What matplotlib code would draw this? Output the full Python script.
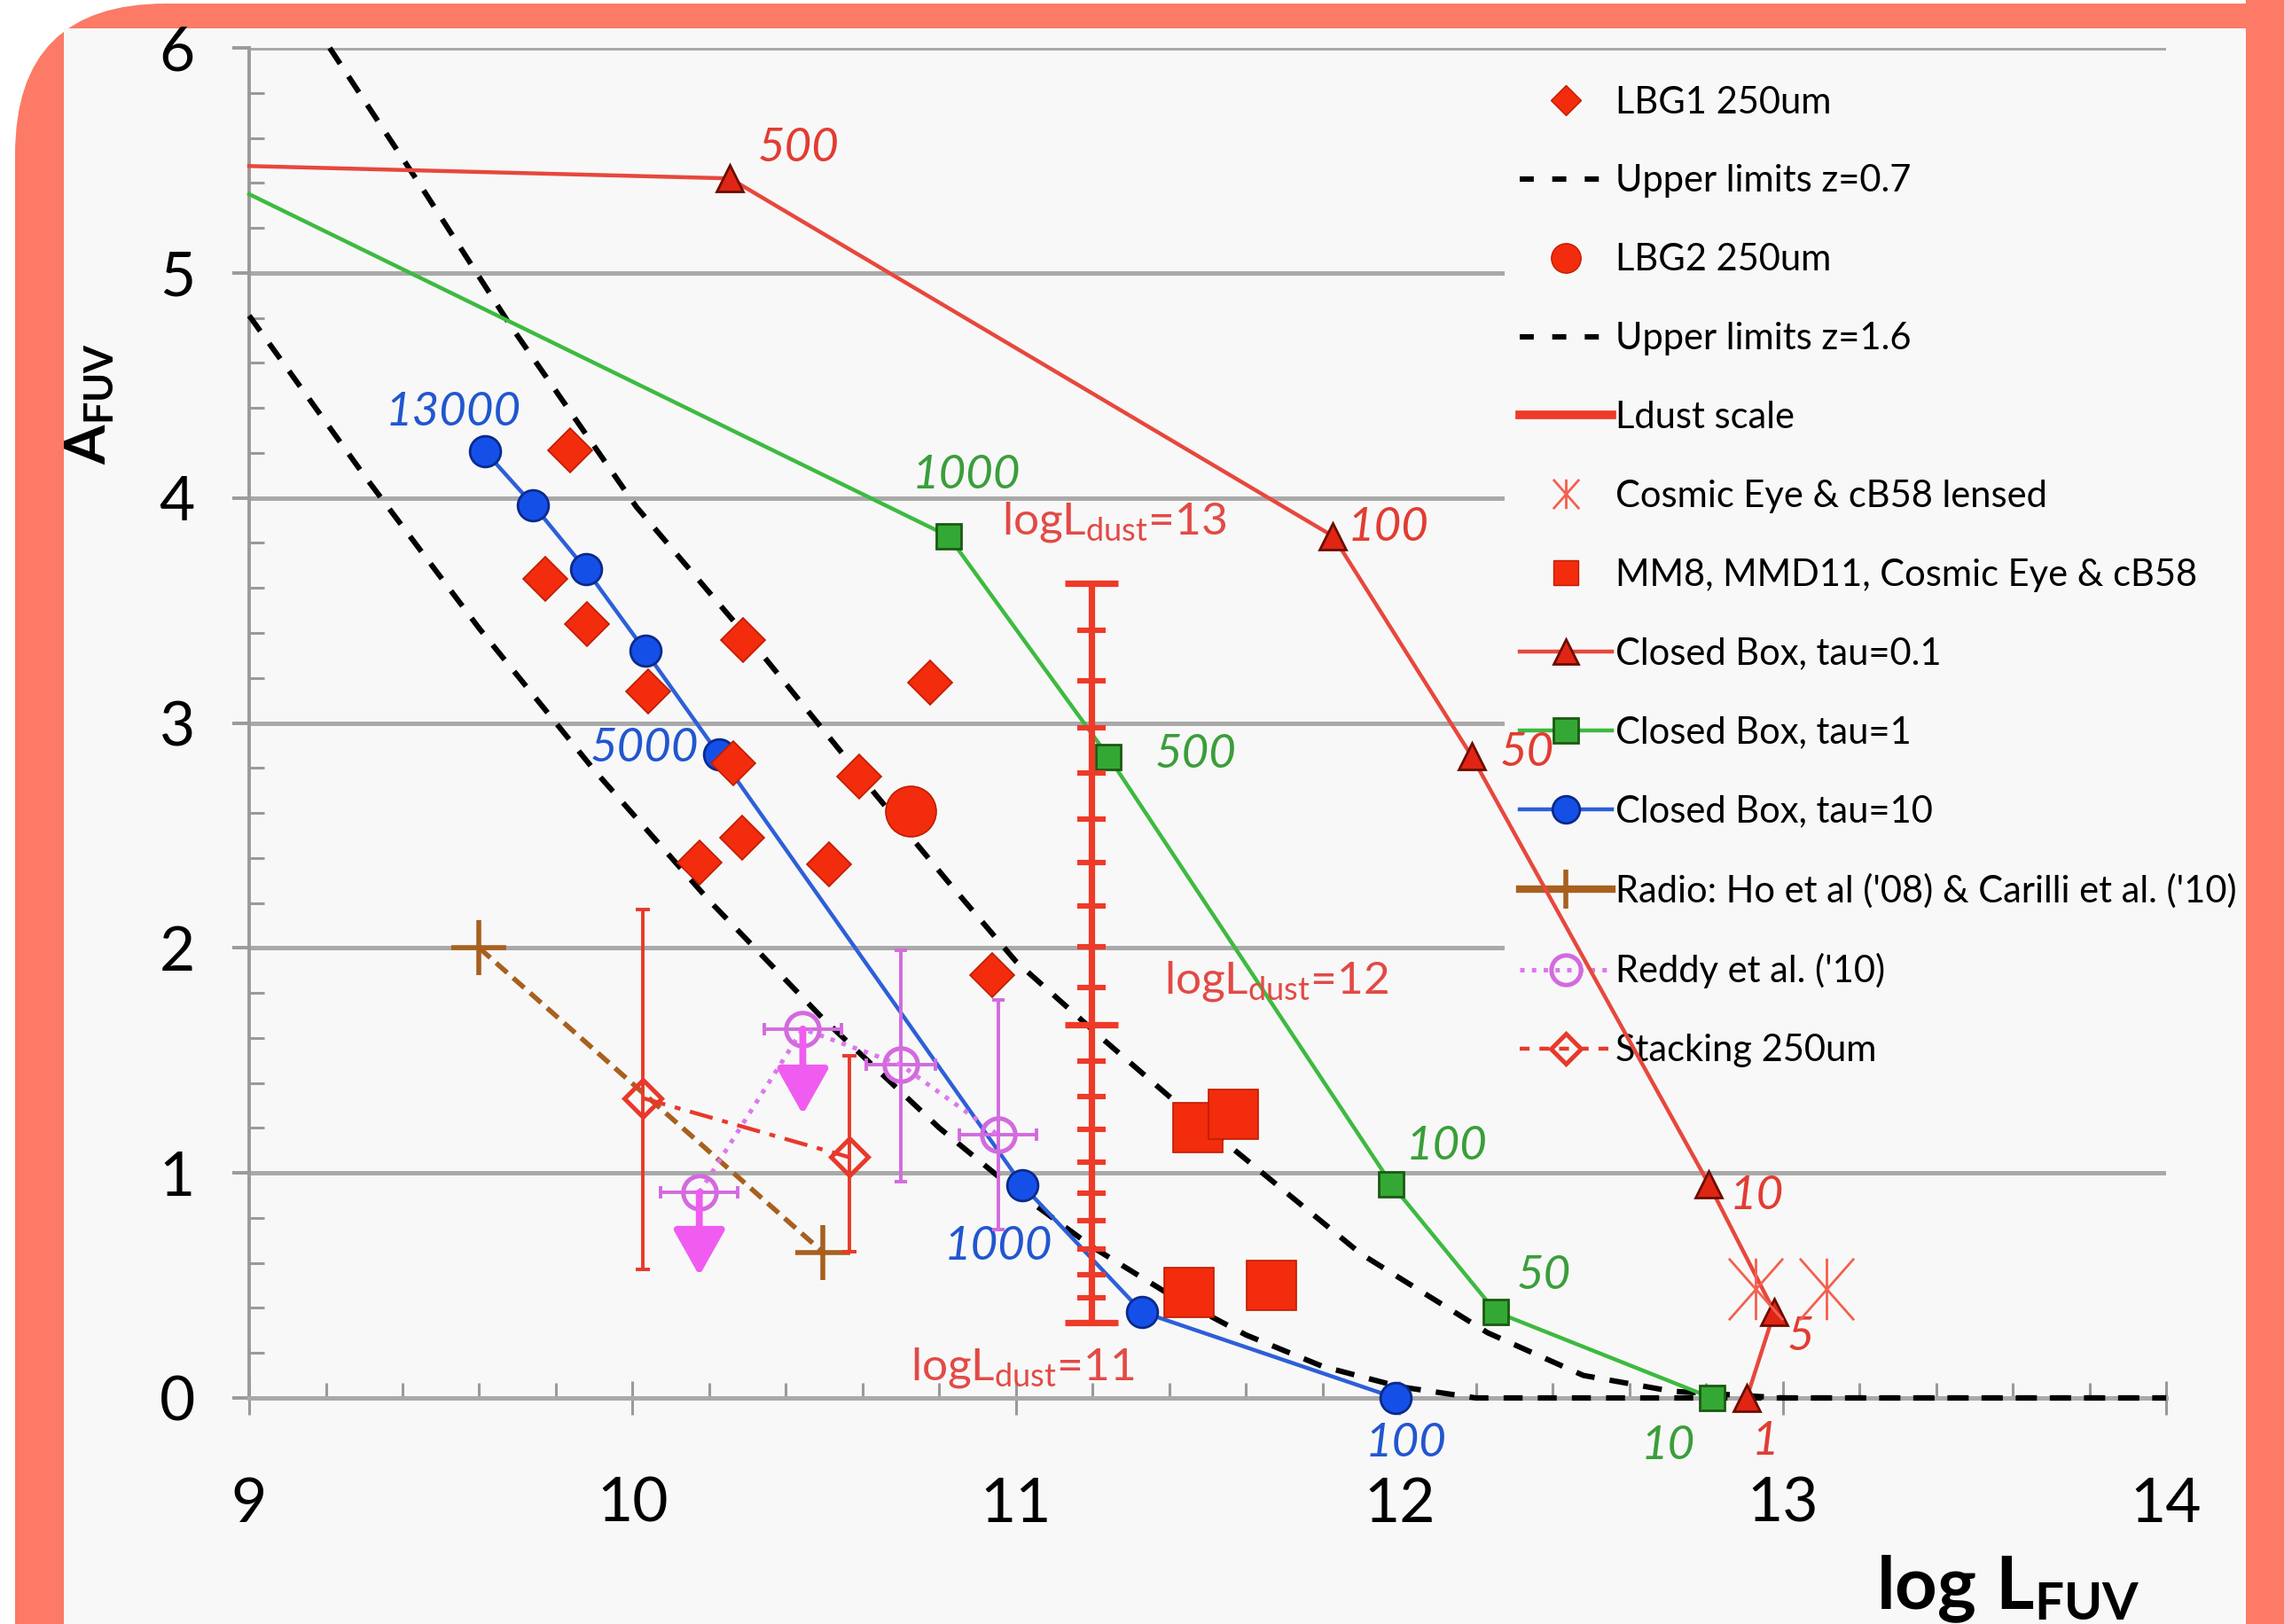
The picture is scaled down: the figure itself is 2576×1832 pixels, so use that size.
import matplotlib
matplotlib.use("Agg")
import matplotlib.pyplot as plt
from matplotlib.lines import Line2D
from matplotlib.patches import FancyBboxPatch, Rectangle
from matplotlib.path import Path
from matplotlib.ticker import MultipleLocator

plt.rcParams['font.family'] = ['Lato', 'DejaVu Sans']
plt.rcParams['mathtext.fontset'] = 'custom'
plt.rcParams['mathtext.rm'] = 'Lato'
plt.rcParams['mathtext.it'] = 'Lato:italic'
plt.rcParams['mathtext.bf'] = 'Lato:bold'

# ---- data ----
lbg1_x = [9.836, 9.773, 9.880, 10.288, 10.040, 10.776, 10.263, 10.590, 10.286, 10.175, 10.512, 10.938]
lbg1_y = [4.21, 3.64, 3.44, 3.37, 3.14, 3.18, 2.82, 2.76, 2.49, 2.38, 2.37, 1.88]

lbg2_x = [10.725]
lbg2_y = [2.61]

mm_x = [11.474, 11.568, 11.451, 11.667]
mm_y = [1.20, 1.26, 0.47, 0.50]

lensed_x = [12.93, 13.115]
lensed_y = [0.485, 0.485]

ul07_x = [9.21, 9.45, 9.68, 10.01, 10.34, 10.63, 10.82, 11.0, 11.23, 11.42, 11.6, 11.9, 12.23,
          12.48, 12.71, 13.0, 14.0]
ul07_y = [6.0, 5.38, 4.77, 3.96, 3.30, 2.69, 2.30, 1.94, 1.59, 1.31, 1.06, 0.64, 0.29,
          0.10, 0.03, 0.0, 0.0]

ul16_x = [9.0, 9.3, 9.6, 9.9, 10.2, 10.5, 10.8, 11.0, 11.2, 11.4, 11.6, 11.8, 12.0, 12.2, 14.0]
ul16_y = [4.81, 4.10, 3.42, 2.79, 2.21, 1.68, 1.20, 0.92, 0.67, 0.46, 0.28, 0.14, 0.05, 0.0, 0.0]

tau01_x = [9.0, 10.254, 11.827, 12.188, 12.807, 12.978, 12.906]
tau01_y = [5.475, 5.42, 3.83, 2.854, 0.951, 0.382, 0.0]
tau01_lab = ['', '500', '100', '50', '10', '5', '1']

tau1_x = [9.0, 10.824, 11.242, 11.979, 12.252, 12.815]
tau1_y = [5.35, 3.83, 2.848, 0.951, 0.382, 0.0]
tau1_lab = ['', '1000', '500', '100', '50', '10']

tau10_x = [9.615, 9.741, 9.878, 10.033, 10.225, 11.017, 11.329, 11.99]
tau10_y = [4.207, 3.968, 3.683, 3.32, 2.86, 0.945, 0.382, 0.0]
tau10_lab = ['13000', '', '', '', '5000', '1000', '', '100']

radio_x = [9.60, 10.497]
radio_y = [2.0, 0.647]

reddy_x = [10.174, 10.444, 10.70, 10.953]
reddy_y = [0.913, 1.64, 1.48, 1.17]
reddy_xerr = [0.1, 0.1, 0.09, 0.1]
reddy_err_lo = [0.0, 0.0, 0.52, 0.42]
reddy_err_hi = [0.0, 0.0, 0.51, 0.60]
reddy_uplim = [0.37, 0.38, 0.0, 0.0]

stack_x = [10.026, 10.565]
stack_y = [1.333, 1.07]
stack_err_lo = [0.763, 0.42]
stack_err_hi = [0.837, 0.45]

ldust_x = 11.197
ldust_logl = [11.0 + 0.1 * i for i in range(21)]
ldust_a = [0.333, 0.447, 0.549, 0.662, 0.786, 0.910, 1.046, 1.193, 1.340, 1.499, 1.657,
           1.826, 2.007, 2.188, 2.381, 2.572, 2.776, 2.98, 3.188, 3.41, 3.62]
ldust_major = [11, 12, 13]

# ---- colours ----
coral = '#fc7a66'
panel = '#f8f8f8'
red = '#f22c0c'
red_dark = '#c01c00'
red_line = '#e8473c'
green = '#3dba40'
blue = '#2d5fd8'
brown = '#a8601e'
violet = '#d36ade'
pink = '#f05cf0'

# asterisk: vertical bar plus a steep X
star = Path([(0, -1), (0, 1), (-0.88, -1), (0.88, 1), (-0.88, 1), (0.88, -1)],
            [Path.MOVETO, Path.LINETO] * 3)

fig = plt.figure(figsize=(12.88, 9.16), dpi=200)
fig.patch.set_facecolor('white')
frame = FancyBboxPatch((0.085, -1.0), 14.0, 10.14, boxstyle='round,pad=0,rounding_size=0.85',
                       transform=fig.dpi_scale_trans, fc=coral, ec='none', zorder=-5)
inner = Rectangle((0.36, -0.5), 12.665 - 0.36, 9.5, transform=fig.dpi_scale_trans,
                  fc=panel, ec='none', zorder=-4)
right_band = Rectangle((12.665, -0.5), 1.0, 10.0, transform=fig.dpi_scale_trans,
                       fc=coral, ec='none', zorder=10)
fig.patches.extend([frame, inner, right_band])

ax = fig.add_axes([0.1091, 0.1392, 0.8393, 0.8313])
ax.patch.set_alpha(0)
ax.set_xlim(9, 14)
ax.set_ylim(0, 6)

# grid, spines, ticks
ax.set_axisbelow(True)
ax.yaxis.grid(True, color='#a9a9a9', lw=1.8)
for s in ['top', 'right']:
    ax.spines[s].set_visible(False)
ax.spines['left'].set_color('#9a9a9a')
ax.spines['left'].set_linewidth(1.4)
ax.spines['bottom'].set_color('#a9a9a9')
ax.spines['bottom'].set_linewidth(1.8)
ax.set_xticks(range(9, 15))
ax.set_yticks(range(0, 7))
ax.xaxis.set_minor_locator(MultipleLocator(0.2))
ax.yaxis.set_minor_locator(MultipleLocator(0.2))
ax.tick_params(axis='y', which='major', direction='out', length=7, width=1.4,
               color='#9a9a9a', pad=15, labelsize=25)
ax.tick_params(axis='y', which='minor', direction='in', length=6, width=1.1, color='#9a9a9a')
ax.tick_params(axis='x', which='major', direction='inout', length=14, width=1.1,
               color='#9a9a9a', pad=25, labelsize=25)
ax.tick_params(axis='x', which='minor', direction='in', length=6, width=1.1, color='#9a9a9a')

dash = (0, (3.5, 2.8))

# upper limit curves
ax.plot(ul07_x, ul07_y, color='black', lw=2.2, ls=dash, zorder=2.6, clip_on=False)
ax.plot(ul16_x, ul16_y, color='black', lw=2.2, ls=dash, zorder=2.6, clip_on=False)

# closed box models
ax.plot(tau01_x, tau01_y, color=red_line, lw=1.6, marker='^', ms=10.5, mfc='#e02515',
        mec='#6b0d00', mew=1.0, markevery=list(range(1, len(tau01_x))), zorder=3, clip_on=False)
ax.plot(tau1_x, tau1_y, color=green, lw=1.6, marker='s', ms=10, mfc='#34a834',
        mec='#1b5a12', mew=1.0, markevery=list(range(1, len(tau1_x))), zorder=3, clip_on=False)
ax.plot(tau10_x, tau10_y, color=blue, lw=1.6, marker='o', ms=12.5, mfc='#1450e8',
        mec='#0a2a8a', mew=1.0, zorder=3, clip_on=False)

lab_off01 = [(0, 0), (27.8, 12.4), (22.5, 3.5), (22.5, 1.2), (19.5, -4.7), (10.6, -10), (7.7, -17.7)]
lab_off1 = [(0, 0), (7.1, 24.8), (35.5, 1.2), (22.5, 15.4), (19.5, 14.8), (-17.7, -19.5)]
lab_off10 = [(-13, 16), (0, 0), (0, 0), (0, 0), (-30.2, 2.4), (-10, -24.8), (0, 0), (4.1, -18.3)]
for xs, ys, labs, offs, col in [(tau01_x, tau01_y, tau01_lab, lab_off01, '#e23c32'),
                                (tau1_x, tau1_y, tau1_lab, lab_off1, '#3a9e3a'),
                                (tau10_x, tau10_y, tau10_lab, lab_off10, '#2256cf')]:
    for x, y, t, o in zip(xs, ys, labs, offs):
        if t:
            ax.annotate(t, (x, y), xytext=o, textcoords='offset points', ha='center',
                        va='center', fontsize=19, fontstyle='italic', color=col,
                        annotation_clip=False, zorder=4)

# Ldust scale
ax.plot([ldust_x, ldust_x], [min(ldust_a), max(ldust_a)], color='#ee3a28', lw=2.6, zorder=3,
        solid_capstyle='butt')
ax.plot([ldust_x] * len(ldust_a), ldust_a, ls='none', marker='_', ms=11.5, mew=2.2,
        color='#ee3a28', zorder=3)
maj_a = [a for l, a in zip(ldust_logl, ldust_a) if round(l, 1) in ldust_major]
ax.plot([ldust_x] * len(maj_a), maj_a, ls='none', marker='_', ms=21.5, mew=2.6,
        color='#ee3a28', zorder=3)
ldust_txt = [(10.964, 3.84, '13'), (11.386, 1.80, '12'), (10.725, 0.08, '11')]
for x, y, v in ldust_txt:
    ax.text(x, y, r'logL$_{\rm dust}$=' + v, color='#e24a46', fontsize=18.5,
            ha='left', va='baseline', zorder=4)

# data points
ax.plot(lbg1_x, lbg1_y, ls='none', marker='D', ms=12.5, mfc=red, mec=red_dark, mew=0.6, zorder=4)
ax.plot(lbg2_x, lbg2_y, ls='none', marker='o', ms=20.5, mfc=red, mec=red_dark, mew=0.6, zorder=4)
ax.plot(mm_x, mm_y, ls='none', marker='s', ms=20.5, mfc=red, mec=red_dark, mew=0.6, zorder=4)
ax.plot(lensed_x, lensed_y, ls='none', marker=star, ms=25, mew=1.0, color='#f4604e', zorder=4)

# radio
ax.plot(radio_x, radio_y, color=brown, lw=2.0, ls=(0, (3, 1.6)), marker='+', ms=22, mew=2.0, zorder=4)

# stacking
ax.errorbar(stack_x, stack_y, yerr=[stack_err_lo, stack_err_hi], fmt='none', ecolor='#e8392a',
            elinewidth=1.4, capsize=3, capthick=1.4, zorder=4)
ax.plot(stack_x, stack_y, color='#e8392a', lw=1.6, ls=(0, (6, 2.5, 1.5, 2.5)), marker='D', ms=10.5,
        mfc='none', mec='#e8392a', mew=1.8, zorder=4)

# Reddy et al.
ax.errorbar(reddy_x, reddy_y, xerr=reddy_xerr, yerr=[reddy_err_lo, reddy_err_hi], fmt='none',
            ecolor=violet, elinewidth=1.4, capsize=2.5, capthick=1.4, zorder=4)
ax.plot(reddy_x, reddy_y, color='#dd77ee', lw=1.8, ls=':', marker='o', ms=13.5, mfc='none',
        mec=violet, mew=1.8, zorder=4)
for x, y, L in zip(reddy_x, reddy_y, reddy_uplim):
    if L > 0:
        ax.annotate('', xy=(x, y - L), xytext=(x, y),
                    arrowprops=dict(arrowstyle='-|>,head_width=0.45,head_length=0.8', lw=2.8,
                                    color=pink, mutation_scale=20, shrinkA=0, shrinkB=0),
                    zorder=4)

# axis labels
fig.text(0.0395, 0.7516, r'$\mathbf{A}_{\mathbf{FUV}}$', rotation=90, ha='center', va='center',
         fontsize=23)
fig.text(0.8215, 0.0093, r'$\mathbf{log\ L}_{\mathbf{FUV}}$', ha='left', va='baseline', fontsize=30)

# legend
handles = [
    Line2D([], [], ls='none', marker='D', ms=8.5, mfc=red, mec=red_dark, mew=0.5),
    Line2D([], [], color='black', lw=2.2, ls=(0, (2.6, 3.4))),
    Line2D([], [], ls='none', marker='o', ms=12, mfc=red, mec=red_dark, mew=0.5),
    Line2D([], [], color='black', lw=2.2, ls=(0, (2.6, 3.4))),
    Line2D([], [], color='#ee3a28', lw=3.5),
    Line2D([], [], ls='none', marker=star, ms=12, mew=1.0, color='#f4604e'),
    Line2D([], [], ls='none', marker='s', ms=10, mfc=red, mec=red_dark, mew=0.5),
    Line2D([], [], color=red_line, lw=1.6, marker='^', ms=10, mfc='#e02515', mec='#6b0d00', mew=1.0),
    Line2D([], [], color=green, lw=1.6, marker='s', ms=10, mfc='#34a834', mec='#1b5a12', mew=1.0),
    Line2D([], [], color=blue, lw=1.6, marker='o', ms=11, mfc='#1450e8', mec='#0a2a8a', mew=1.0),
    Line2D([], [], color=brown, lw=3.0, marker='+', ms=16, mew=2.0),
    Line2D([], [], color='#dd77ee', lw=1.8, ls=':', marker='o', ms=12, mfc='none', mec=violet, mew=1.8),
    Line2D([], [], color='#e8392a', lw=1.6, ls=(0, (2.5, 2.5)), marker='D', ms=8.5, mfc='none',
           mec='#e8392a', mew=1.8),
]
labels = ['LBG1 250um', 'Upper limits z=0.7', 'LBG2 250um', 'Upper limits z=1.6', 'Ldust scale',
          'Cosmic Eye & cB58 lensed', 'MM8, MMD11, Cosmic Eye & cB58', 'Closed Box, tau=0.1',
          'Closed Box, tau=1', 'Closed Box, tau=10', "Radio: Ho et al ('08) & Carilli et al. ('10)",
          "Reddy et al. ('10)", 'Stacking 250um']
leg = ax.legend(handles, labels, loc='upper left', bbox_to_anchor=(0.655, 0.983), fontsize=15,
                frameon=True, facecolor=panel, edgecolor='none', framealpha=1, fancybox=False,
                borderaxespad=0, borderpad=0.4, labelspacing=1.22, handlelength=2.5,
                handletextpad=0.1, numpoints=1)
leg.set_zorder(1.5)

fig.savefig('out.png', dpi=200, facecolor=fig.get_facecolor())
